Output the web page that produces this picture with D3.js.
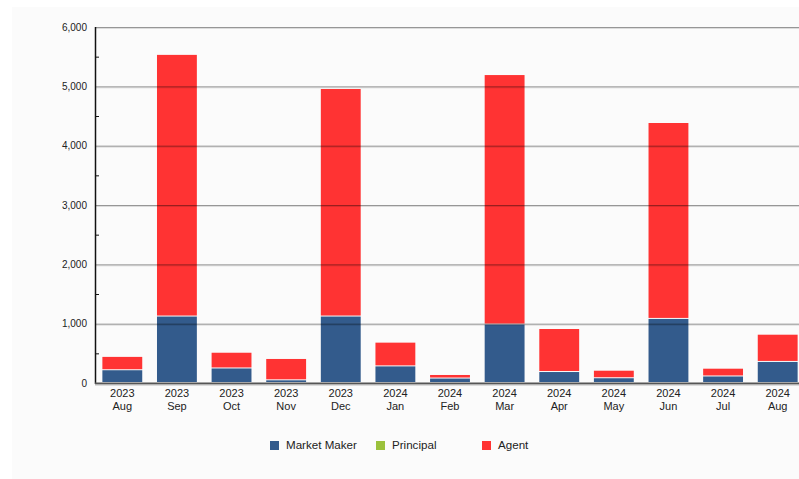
<!DOCTYPE html>
<html><head><meta charset="utf-8">
<script src="https://cdn.jsdelivr.net/npm/d3@7"></script>
<style>html,body{margin:0;padding:0;background:#fff;overflow:hidden}svg{display:block;font-family:"Liberation Sans",Arial,sans-serif}</style>
</head><body>
<svg id="c" width="799" height="479"></svg>
<script>
const years = ["2023","2023","2023","2023","2023","2024","2024","2024","2024","2024","2024","2024","2024"];
const months = ["Aug","Sep","Oct","Nov","Dec","Jan","Feb","Mar","Apr","May","Jun","Jul","Aug"];
const marketMaker = [215,1120,245,45,1120,280,75,985,185,80,1080,110,355];
const principal = [0,0,0,0,0,0,0,0,0,0,0,0,0];
const agent = [225,4410,265,360,3835,400,60,4205,725,127,3302,131,459];
const seriesNames = ["Market Maker","Principal","Agent"];
const seriesColors = ["#335b8c","#9bc13c","#ff3333"];
const yTicks = [0,1000,2000,3000,4000,5000,6000];

const svg = d3.select("#c");
svg.append("rect").attr("x",12).attr("y",7).attr("width",800).attr("height",480).attr("fill","#fbfbfb");

const cats = months.map((m,i)=>i);
const x = d3.scaleBand().domain(cats).range([95,805]).paddingInner(0.27).paddingOuter(0.135);
const y = d3.scaleLinear().domain([0,6000]).range([383,27]);

// stacked bars
const rows = cats.map(i=>({i, mm:marketMaker[i], pr:principal[i], ag:agent[i]}));
const stack = d3.stack().keys(["mm","pr","ag"])(rows);
svg.append("g").selectAll("g").data(stack).join("g")
  .attr("fill",(d,k)=>seriesColors[k])
  .selectAll("rect").data(d=>d.filter(p=>p[1]-p[0]>0)).join("rect")
  .attr("x",d=>x(d.data.i)).attr("width",x.bandwidth())
  .attr("y",d=>y(d[1])).attr("height",d=>Math.max(0,y(d[0])-y(d[1])-1));

// gridlines (drawn over bars, translucent)
svg.append("g").selectAll("line").data(yTicks.slice(1)).join("line")
  .attr("x1",95).attr("x2",805).attr("y1",d=>y(d)+0.5).attr("y2",d=>y(d)+0.5)
  .attr("stroke","#000").attr("stroke-opacity",0.4).attr("stroke-width",1);
svg.append("g").selectAll("line").data(yTicks.slice(1)).join("line")
  .attr("x1",95).attr("x2",805).attr("y1",d=>y(d)+1.5).attr("y2",d=>y(d)+1.5)
  .attr("stroke","#000").attr("stroke-opacity",0.12).attr("stroke-width",1);

// y axis
const yAxis = d3.axisLeft(y).tickValues(yTicks).tickSize(0).tickPadding(8).tickFormat(d3.format(","));
const ya = svg.append("g").attr("transform","translate(95,0)").call(yAxis);
ya.select(".domain").remove();
ya.selectAll("text").attr("font-size",10).attr("fill","#222").attr("font-family","Liberation Sans, Arial, sans-serif");
svg.append("line").attr("x1",95.5).attr("x2",95.5).attr("y1",27).attr("y2",384).attr("stroke","#111").attr("stroke-width",1.5);
svg.append("g").selectAll("line").data([500,1500,2500,3500,4500,5500]).join("line")
  .attr("x1",95).attr("x2",99).attr("y1",d=>y(d)+0.5).attr("y2",d=>y(d)+0.5).attr("stroke","#111");

// x axis
svg.append("line").attr("x1",95).attr("x2",805).attr("y1",383.5).attr("y2",383.5).attr("stroke","#555").attr("stroke-width",2);
svg.append("line").attr("x1",95).attr("x2",805).attr("y1",385).attr("y2",385).attr("stroke","#bbb").attr("stroke-width",1);
const xl = svg.append("g").selectAll("text").data(cats).join("text")
  .attr("x",d=>x(d)+x.bandwidth()/2).attr("text-anchor","middle")
  .attr("font-size",11).attr("fill","#222");
xl.append("tspan").attr("x",d=>x(d)+x.bandwidth()/2).attr("y",397).text(d=>years[d]);
xl.append("tspan").attr("x",d=>x(d)+x.bandwidth()/2).attr("y",410).text(d=>months[d]);

// legend
const legX = [270,376,482];
const lg = svg.append("g").selectAll("g").data(seriesNames).join("g")
  .attr("transform",(d,i)=>`translate(${legX[i]},441)`);
lg.append("rect").attr("width",9).attr("height",9).attr("fill",(d,i)=>seriesColors[i]);
lg.append("text").attr("x",16).attr("y",8).attr("font-size",11.6).attr("fill","#222").text(d=>d);
</script>
</body></html>
